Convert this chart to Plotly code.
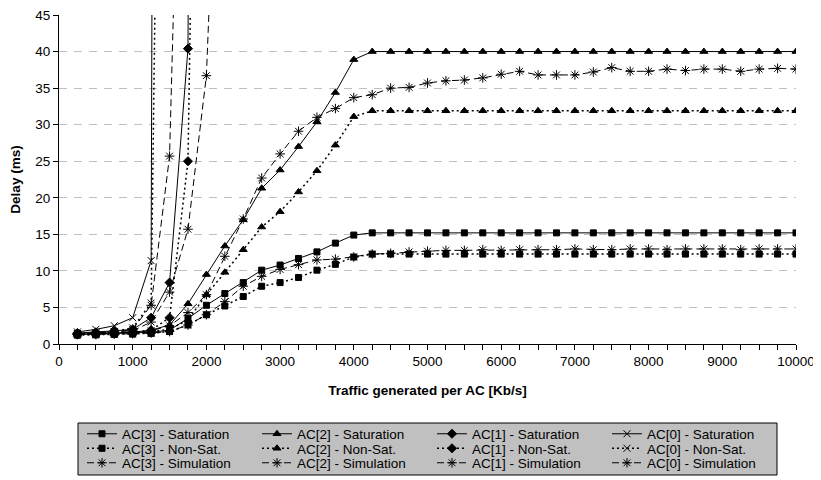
import plotly.graph_objects as go

traffic = [250, 500, 750, 1000, 1250, 1500, 1750, 2000, 2250, 2500,
           2750, 3000, 3250, 3500, 3750, 4000, 4250, 4500, 4750, 5000,
           5250, 5500, 5750, 6000, 6250, 6500, 6750, 7000, 7250, 7500,
           7750, 8000, 8250, 8500, 8750, 9000, 9250, 9500, 9750, 10000]

ac3_sat = [1.3, 1.35, 1.4, 1.5, 1.6, 1.9, 3.5, 5.3, 6.9, 8.4, 10.1, 10.8, 11.7, 12.6, 13.8, 14.9,
           15.2, 15.2, 15.2, 15.2, 15.2, 15.2, 15.2, 15.2, 15.2, 15.2, 15.2, 15.2,
           15.2, 15.2, 15.2, 15.2, 15.2, 15.2, 15.2, 15.2, 15.2, 15.2, 15.2, 15.2]
ac3_nonsat = [1.2, 1.25, 1.3, 1.35, 1.45, 1.7, 2.6, 4.0, 5.2, 6.5, 7.9, 8.4, 9.1, 10.1, 10.9, 11.9,
              12.3, 12.3, 12.3, 12.3, 12.3, 12.3, 12.3, 12.3, 12.3, 12.3, 12.3, 12.3,
              12.3, 12.3, 12.3, 12.3, 12.3, 12.3, 12.3, 12.3, 12.3, 12.3, 12.3, 12.3]
ac3_sim = [1.3, 1.3, 1.35, 1.4, 1.5, 1.7, 2.6, 4.0, 5.8, 7.9, 9.25, 10.2, 10.85, 11.5, 11.6, 11.9,
           12.3, 12.4, 12.6, 12.7, 12.8, 12.8, 12.9, 12.8, 12.9, 12.9, 12.9, 13.0,
           12.9, 12.9, 13.0, 13.0, 12.9, 13.0, 13.0, 13.0, 12.9, 13.0, 13.0, 13.0]

ac2_sat = [1.35, 1.4, 1.5, 1.6, 1.9, 2.6, 5.5, 9.5, 13.4, 17.0, 21.3, 23.8, 27.0, 30.4, 34.4, 38.9,
           40.0, 40.0, 40.0, 40.0, 40.0, 40.0, 40.0, 40.0, 40.0, 40.0, 40.0, 40.0,
           40.0, 40.0, 40.0, 40.0, 40.0, 40.0, 40.0, 40.0, 40.0, 40.0, 40.0, 40.0]
ac2_nonsat = [1.3, 1.35, 1.4, 1.5, 1.7, 2.0, 3.3, 6.75, 9.8, 12.9, 16.0, 18.1, 20.8, 23.7, 27.2, 31.1,
              31.9, 31.9, 31.9, 31.9, 31.9, 31.9, 31.9, 31.9, 31.9, 31.9, 31.9, 31.9,
              31.9, 31.9, 31.9, 31.9, 31.9, 31.9, 31.9, 31.9, 31.9, 31.9, 31.9, 31.9]
ac2_sim = [1.4, 1.4, 1.5, 1.6, 1.8, 2.5, 4.3, 6.75, 12.0, 17.1, 22.7, 26.0, 29.1, 31.0, 32.2, 33.7,
           34.1, 35.0, 35.1, 35.7, 36.0, 36.1, 36.4, 36.9, 37.3, 36.8, 36.8, 36.8,
           37.2, 37.8, 37.3, 37.3, 37.6, 37.4, 37.6, 37.6, 37.3, 37.6, 37.7, 37.6]

ac1_sat = [1.5, 1.6, 1.8, 2.0, 3.6, 8.4, 40.4, 500]
ac1_nonsat = [1.3, 1.4, 1.45, 1.6, 1.9, 3.6, 25.0, 185]
ac1_sim = [1.4, 1.5, 1.6, 1.8, 3.0, 7.1, 15.7, 36.7, 100]

ac0_sat = [1.65, 2.0, 2.5, 3.6, 11.4, 800]
ac0_nonsat = [1.4, 1.5, 1.7, 2.2, 5.6, 200]
ac0_sim = [1.4, 1.5, 1.6, 2.0, 5.3, 25.7, 120]

FONT = "Liberation Sans, Arial, sans-serif"
SOLID = "solid"
DOT = "2px,3px"
DASH = "7px,4px"

# page body has an 8px default margin; compensate so the figure fills the window
OFF = 8
FIG_W = 821 - OFF
FIG_H = 480 - OFF
PL, PR, PT, PB = 59, 796, 15, 344   # plot area in window pixels

fig = go.Figure()


def add(name, y, dash, width, symbol, size, legend, lw=1):
    fig.add_trace(go.Scatter(
        x=traffic[:len(y)], y=y, name=name, mode="lines+markers",
        line=dict(color="black", width=width, dash=dash),
        marker=dict(symbol=symbol, size=size, color="black",
                    line=dict(color="black", width=lw)),
        legend=legend))


add("AC[3] - Saturation", ac3_sat, SOLID, 1, "square", 6, "legend")
add("AC[2] - Saturation", ac2_sat, SOLID, 1, "triangle-up", 7, "legend")
add("AC[1] - Saturation", ac1_sat, SOLID, 1, "diamond", 7, "legend")
add("AC[0] - Saturation", ac0_sat, SOLID, 1, "x-thin-open", 7, "legend")

add("AC[3] - Non-Sat.", ac3_nonsat, DOT, 1.5, "square", 6, "legend2")
add("AC[2] - Non-Sat.", ac2_nonsat, DOT, 1.5, "triangle-up", 7, "legend2")
add("AC[1] - Non-Sat.", ac1_nonsat, DOT, 1.5, "diamond", 7, "legend2")
add("AC[0] - Non-Sat.", ac0_nonsat, DOT, 1.5, "x-thin-open", 7, "legend2")

add("AC[3] - Simulation", ac3_sim, DASH, 1, "asterisk-open", 8, "legend3")
add("AC[2] - Simulation", ac2_sim, DASH, 1, "asterisk-open", 8, "legend3")
add("AC[1] - Simulation", ac1_sim, DASH, 1, "asterisk-open", 8, "legend3")
add("AC[0] - Simulation", ac0_sim, DASH, 1, "asterisk-open", 8, "legend3")

plot_w = float(PR - PL)
plot_h = float(PB - PT)


def px_x(p):
    return (p - PL) / plot_w


def px_y(p):
    return (PB - p) / plot_h


leg_common = dict(orientation="h", xanchor="left", yanchor="middle",
                  bgcolor="rgba(0,0,0,0)", borderwidth=0,
                  font=dict(family=FONT, size=13.5, color="black"),
                  entrywidth=130, entrywidthmode="pixels",
                  itemclick=False, itemdoubleclick=False)

fig.update_layout(
    width=FIG_W, height=FIG_H,
    margin=dict(l=PL - OFF, r=821 - PR, t=PT - OFF, b=480 - PB, autoexpand=False),
    paper_bgcolor="white", plot_bgcolor="white",
    font=dict(family=FONT, size=13.5, color="black"),
    legend=dict(x=px_x(82), y=px_y(434), **leg_common),
    legend2=dict(x=px_x(82), y=px_y(448.5), **leg_common),
    legend3=dict(x=px_x(82), y=px_y(463), **leg_common),
    shapes=[dict(type="rect", xref="paper", yref="paper",
                 x0=px_x(78), x1=px_x(777), y0=px_y(475), y1=px_y(423),
                 fillcolor="#c0c0c0", line=dict(color="black", width=1),
                 layer="below")],
    xaxis=dict(
        range=[0, 10000], tick0=0, dtick=1000, tickformat="d",
        ticks="outside", ticklen=5, tickcolor="black", tickwidth=1,
        showline=True, linecolor="black", linewidth=1,
        showgrid=False, zeroline=False, ticklabeloverflow="allow",
        tickfont=dict(family=FONT, size=13.5, color="black"),
        minor=dict(dtick=250, tick0=0, ticks="outside", ticklen=5,
                   tickcolor="black", tickwidth=1, showgrid=False),
        title=dict(text="<b>Traffic generated per AC [Kb/s]</b>",
                   font=dict(family=FONT, size=13.5, color="black"),
                   standoff=17),
    ),
    yaxis=dict(
        range=[0, 45], tick0=0, dtick=5,
        ticks="outside", ticklen=5, tickcolor="black", tickwidth=1,
        showline=True, linecolor="black", linewidth=1,
        showgrid=True, gridcolor="#c0c0c0", gridwidth=1, griddash="8px,7px",
        zeroline=False, ticklabeloverflow="allow",
        tickfont=dict(family=FONT, size=13.5, color="black"),
        title=dict(text="<b>Delay (ms)</b>",
                   font=dict(family=FONT, size=13.5, color="black"),
                   standoff=17),
    ),
)

fig.write_html("out.html")
